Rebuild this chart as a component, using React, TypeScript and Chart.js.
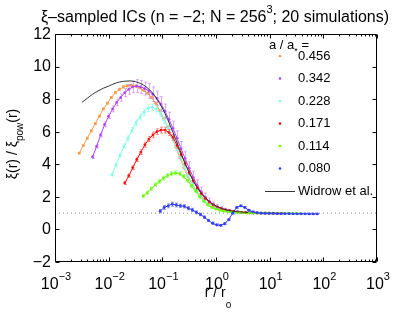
import React, { useEffect, useRef } from "react";
import { Chart, registerables } from "chart.js";

Chart.register(...registerables);

// ---------- data ----------
const X_MIN = 1e-3;
const X_MAX = 1e3;
const Y_MIN = -2;
const Y_MAX = 12;
const Y_TICKS = [-2, 0, 2, 4, 6, 8, 10, 12];
const X_DECADES = [-3, -2, -1, 0, 1, 2, 3];

const SERIES_LABELS = ["0.456", "0.342", "0.228", "0.171", "0.114", "0.080"];
const SERIES_COLORS = ["#FF9A4A", "#B23CFF", "#7FFFE6", "#FF0000", "#66FF00", "#2E3BFF"];
const BAR_COLORS = ["rgba(255,154,74,0.55)", "rgba(190,110,255,0.55)", "rgba(127,255,230,0.6)", "rgba(255,60,60,0.55)", "rgba(110,255,40,0.55)", "rgba(60,70,255,0.55)"];
const LOG_STEP = 0.075;
const SERIES_LOGR_START = [-2.55, -2.3, -1.94, -1.7, -1.355, -1.04];

const S0456 = [4.68, 5.15, 5.6, 6.05, 6.5, 6.95, 7.4, 7.75, 8.1, 8.4, 8.6, 8.75, 8.82, 8.85, 8.8, 8.7, 8.55, 8.35, 8.1, 7.75, 7.3, 6.8, 6.3, 5.7, 5.05, 4.4, 3.8, 3.25, 2.8, 2.4, 2.1, 1.83, 1.62, 1.47, 1.35, 1.26, 1.19, 1.14, 1.1, 1.07];
const S0342 = [4.45, 5.1, 5.8, 6.45, 6.95, 7.4, 7.8, 8.1, 8.4, 8.6, 8.75, 8.8, 8.75, 8.65, 8.5, 8.3, 8.05, 7.7, 7.25, 6.75, 6.2, 5.6, 4.95, 4.35, 3.75, 3.2, 2.7, 2.3, 1.98, 1.72, 1.52, 1.38, 1.27, 1.2, 1.14, 1.1, 1.07, 1.05, 1.04, 1.03];
const S0228 = [3.36, 3.95, 4.55, 5.1, 5.6, 6.1, 6.55, 6.9, 7.2, 7.45, 7.5, 7.4, 7.15, 6.7, 6.2, 5.65, 5.05, 4.45, 3.85, 3.3, 2.8, 2.4, 2.05, 1.8, 1.6, 1.45, 1.33, 1.25, 1.18, 1.13, 1.1, 1.07, 1.05, 1.04, 1.03, 1.02, 1.02, 1.01, 1.01, 1.0];
const S0171 = [2.85, 3.3, 3.8, 4.3, 4.75, 5.2, 5.55, 5.8, 6.0, 6.1, 6.1, 5.95, 5.65, 5.15, 4.6, 4.05, 3.5, 3.0, 2.55, 2.2, 1.9, 1.68, 1.5, 1.37, 1.27, 1.2, 1.15, 1.1, 1.07, 1.05, 1.03, 1.02, 1.01, 1.01, 1.0, 1.0, 1.0, 0.99, 0.99, 0.99];
const S0114 = [2.05, 2.25, 2.5, 2.75, 2.95, 3.15, 3.3, 3.42, 3.47, 3.42, 3.25, 3.0, 2.65, 2.35, 2.0, 1.72, 1.5, 1.35, 1.25, 1.17, 1.12, 1.08, 1.06, 1.04, 1.03, 1.02, 1.01, 1.01, 1.0, 1.0, 1.0, 1.0, 1.0, 0.99, 0.99, 0.99, 0.99, 0.99, 0.98, 0.98];
const S0080 = [1.12, 1.35, 1.45, 1.55, 1.5, 1.45, 1.42, 1.3, 1.2, 1.05, 0.92, 0.75, 0.55, 0.38, 0.28, 0.25, 0.35, 0.6, 1.0, 1.35, 1.45, 1.35, 1.18, 1.08, 1.03, 1.0, 0.99, 0.98, 0.98, 0.97, 0.97, 0.97, 0.97, 0.96, 0.96, 0.96, 0.96, 0.95, 0.95, 0.95];

const E0456 = [0.04, 0.04, 0.05, 0.05, 0.05, 0.05, 0.06, 0.06, 0.06, 0.07, 0.07, 0.08, 0.08, 0.08, 0.08, 0.08, 0.08, 0.08, 0.08, 0.08, 0.08, 0.08, 0.08, 0.08, 0.08, 0.07, 0.07, 0.06, 0.06, 0.05, 0.05, 0.04, 0.04, 0.03, 0.03, 0.03, 0.02, 0.02, 0.02, 0.02];
const E0342 = [0.1, 0.1, 0.12, 0.15, 0.15, 0.18, 0.2, 0.22, 0.25, 0.3, 0.35, 0.4, 0.4, 0.4, 0.45, 0.45, 0.45, 0.45, 0.45, 0.45, 0.45, 0.45, 0.45, 0.42, 0.4, 0.38, 0.35, 0.3, 0.25, 0.2, 0.17, 0.14, 0.12, 0.1, 0.08, 0.07, 0.06, 0.05, 0.05, 0.05];
const E0228 = [0.08, 0.1, 0.1, 0.12, 0.14, 0.15, 0.17, 0.18, 0.2, 0.2, 0.2, 0.2, 0.2, 0.2, 0.2, 0.2, 0.18, 0.17, 0.15, 0.13, 0.12, 0.1, 0.08, 0.07, 0.06, 0.05, 0.05, 0.04, 0.04, 0.03, 0.03, 0.03, 0.03, 0.02, 0.02, 0.02, 0.02, 0.02, 0.02, 0.02];
const E0171 = [0.1, 0.1, 0.12, 0.13, 0.15, 0.15, 0.16, 0.17, 0.18, 0.18, 0.18, 0.18, 0.17, 0.16, 0.15, 0.14, 0.12, 0.1, 0.09, 0.08, 0.07, 0.06, 0.05, 0.04, 0.04, 0.03, 0.03, 0.03, 0.03, 0.02, 0.02, 0.02, 0.02, 0.02, 0.02, 0.02, 0.02, 0.02, 0.02, 0.02];
const E0114 = [0.1, 0.1, 0.1, 0.11, 0.12, 0.12, 0.12, 0.12, 0.12, 0.12, 0.12, 0.11, 0.1, 0.09, 0.08, 0.07, 0.06, 0.05, 0.04, 0.04, 0.03, 0.03, 0.03, 0.02, 0.02, 0.02, 0.02, 0.02, 0.02, 0.02, 0.02, 0.02, 0.02, 0.02, 0.02, 0.02, 0.02, 0.02, 0.02, 0.02];
const E0080 = [0.1, 0.12, 0.12, 0.12, 0.12, 0.1, 0.1, 0.1, 0.1, 0.09, 0.08, 0.08, 0.07, 0.07, 0.06, 0.06, 0.06, 0.06, 0.06, 0.05, 0.05, 0.05, 0.04, 0.04, 0.03, 0.03, 0.03, 0.03, 0.02, 0.02, 0.02, 0.02, 0.02, 0.02, 0.02, 0.02, 0.02, 0.02, 0.02, 0.02];

const SERIES_VALUES = [S0456, S0342, S0228, S0171, S0114, S0080];
const SERIES_ERRORS = [E0456, E0342, E0228, E0171, E0114, E0080];

const WIDROW_LABEL = "Widrow et al.";
const WIDROW_LOGR_START = -2.5;
const WIDROW_LOG_STEP = 0.1;
const WIDROW = [7.8, 8.05, 8.3, 8.5, 8.67, 8.8, 8.95, 9.05, 9.1, 9.12, 9.07, 8.95, 8.75, 8.45, 8.0, 7.45, 6.75, 5.95, 5.1, 4.25, 3.5, 2.85, 2.35, 1.95, 1.65, 1.45, 1.3, 1.2, 1.13, 1.09, 1.06, 1.04];

const REF_LEVEL = 1;

const FONT = "'Liberation Sans', Arial, Helvetica, sans-serif";

function drawSupText(ctx: CanvasRenderingContext2D, parts: { t: string; kind: "n" | "sup" | "sub" }[], x: number, y: number, size: number, align: "left" | "center", subDrop = 0.35) {
  const subSize = Math.round(size * 0.7);
  let total = 0;
  const widths = parts.map((p) => {
    ctx.font = `${p.kind === "n" ? size : subSize}px ${FONT}`;
    const w = ctx.measureText(p.t).width;
    total += w;
    return w;
  });
  let cx = align === "center" ? x - total / 2 : x;
  ctx.textAlign = "left";
  ctx.textBaseline = "alphabetic";
  parts.forEach((p, i) => {
    ctx.font = `${p.kind === "n" ? size : subSize}px ${FONT}`;
    const dy = p.kind === "sup" ? -size * 0.55 : p.kind === "sub" ? size * subDrop : 0;
    ctx.fillText(p.t, cx, y + dy);
    cx += widths[i];
  });
}

const decorPlugin = {
  id: "decor",
  afterDatasetDraw(chart: any, args: any) {
    const ds = chart.data.datasets[args.index];
    if (!ds.errors) return;
    const { ctx, chartArea } = chart;
    const xs = chart.scales.x;
    const ys = chart.scales.y;
    ctx.save();
    ctx.beginPath();
    ctx.rect(chartArea.left, chartArea.top, chartArea.right - chartArea.left, chartArea.bottom - chartArea.top);
    ctx.clip();
    ctx.strokeStyle = ds.barColor;
    ctx.lineWidth = 1;
    ds.data.forEach((pt: any, i: number) => {
      const e = ds.errors[i];
      const px = Math.round(xs.getPixelForValue(pt.x)) + 0.5;
      const p1 = ys.getPixelForValue(pt.y - e);
      const p2 = ys.getPixelForValue(pt.y + e);
      ctx.beginPath();
      ctx.moveTo(px, p1);
      ctx.lineTo(px, p2);
      ctx.moveTo(px - 1.5, p1);
      ctx.lineTo(px + 1.5, p1);
      ctx.moveTo(px - 1.5, p2);
      ctx.lineTo(px + 1.5, p2);
      ctx.stroke();
    });
    ctx.restore();
  },
  afterDraw(chart: any) {
    const { ctx, chartArea } = chart;
    const { left, right, top, bottom } = chartArea;
    const xs = chart.scales.x;
    const ys = chart.scales.y;
    ctx.save();
    ctx.strokeStyle = "#000";
    ctx.fillStyle = "#000";
    ctx.lineWidth = 1;
    const L = Math.round(left) + 0.5;
    const R = Math.round(right) - 0.5;
    const T = Math.round(top) + 0.5;
    const B = Math.round(bottom) - 0.5;
    ctx.beginPath();
    ctx.moveTo(L, T);
    ctx.lineTo(R, T);
    ctx.lineTo(R, B);
    ctx.lineTo(L, B);
    ctx.closePath();
    ctx.stroke();

    // y ticks
    ctx.beginPath();
    Y_TICKS.forEach((v) => {
      const py = Math.round(ys.getPixelForValue(v)) + 0.5;
      ctx.moveTo(L, py);
      ctx.lineTo(L + 4, py);
      ctx.moveTo(R, py);
      ctx.lineTo(R - 4, py);
    });
    // x ticks
    X_DECADES.forEach((d) => {
      const px = Math.round(xs.getPixelForValue(Math.pow(10, d))) + 0.5;
      ctx.moveTo(px, B);
      ctx.lineTo(px, B - 4);
      ctx.moveTo(px, T);
      ctx.lineTo(px, T + 4);
      if (d < 3) {
        for (let k = 2; k <= 9; k++) {
          const mx = Math.round(xs.getPixelForValue(k * Math.pow(10, d))) + 0.5;
          ctx.moveTo(mx, B);
          ctx.lineTo(mx, B - 2);
          ctx.moveTo(mx, T);
          ctx.lineTo(mx, T + 2);
        }
      }
    });
    ctx.stroke();

    // y tick labels
    ctx.font = `16px ${FONT}`;
    ctx.textAlign = "right";
    ctx.textBaseline = "middle";
    Y_TICKS.forEach((v) => {
      const py = ys.getPixelForValue(v);
      ctx.fillText(v < 0 ? "\u2212" + Math.abs(v) : String(v), left - 4, py + 0.5);
    });

    // x tick labels
    X_DECADES.forEach((d) => {
      const px = xs.getPixelForValue(Math.pow(10, d));
      const exp = d < 0 ? "\u2212" + Math.abs(d) : String(d);
      drawSupText(ctx, [{ t: "10", kind: "n" }, { t: exp, kind: "sup" }], px + 1, bottom + 27, 16, "center");
    });

    // x title
    drawSupText(ctx, [{ t: "r / r", kind: "n" }, { t: "o", kind: "sub" }], (left + right) / 2 + 2, bottom + 35, 14, "center", 0.75);

    // y title
    ctx.save();
    ctx.translate(17, (top + bottom) / 2 - 4);
    ctx.rotate(-Math.PI / 2);
    drawSupText(ctx, [{ t: "\u03BE(r) / \u03BE", kind: "n" }, { t: "pow", kind: "sub" }, { t: "(r)", kind: "n" }], 0, 0, 14, "center", 0.45);
    ctx.restore();

    // title
    drawSupText(ctx, [{ t: "\u03BE\u2013sampled ICs (n = \u22122; N = 256", kind: "n" }, { t: "3", kind: "sup" }, { t: "; 20 simulations)", kind: "n" }], (left + right) / 2 - 1, 22, 16, "center");

    // legend
    drawSupText(ctx, [{ t: "a / a", kind: "n" }, { t: "*", kind: "sub" }, { t: " =", kind: "n" }], 269, 49, 13, "left");
    const rowY = [56, 78.5, 101, 123.5, 146, 168.5];
    SERIES_LABELS.forEach((lab, i) => {
      ctx.fillStyle = SERIES_COLORS[i];
      ctx.beginPath();
      ctx.arc(280, rowY[i], 1.3, 0, Math.PI * 2);
      ctx.fill();
      ctx.fillStyle = "#000";
      ctx.font = `13px ${FONT}`;
      ctx.textAlign = "left";
      ctx.textBaseline = "middle";
      ctx.fillText(lab, 298, rowY[i]);
    });
    ctx.strokeStyle = "#333";
    ctx.beginPath();
    ctx.moveTo(265, 191.5);
    ctx.lineTo(295, 191.5);
    ctx.stroke();
    ctx.fillStyle = "#000";
    ctx.font = `13px ${FONT}`;
    ctx.textAlign = "left";
    ctx.textBaseline = "middle";
    ctx.fillText(WIDROW_LABEL, 298, 191);
    ctx.restore();
  },
};

export default function App() {
  const ref = useRef<HTMLCanvasElement | null>(null);
  useEffect(() => {
    if (!ref.current) return;
    const datasets: any[] = SERIES_LABELS.map((lab, si) => ({
      type: "scatter",
      label: lab,
      data: SERIES_VALUES[si].map((v, i) => ({ x: Math.pow(10, SERIES_LOGR_START[si] + i * LOG_STEP), y: v })),
      errors: SERIES_ERRORS[si],
      barColor: BAR_COLORS[si],
      backgroundColor: SERIES_COLORS[si],
      borderColor: SERIES_COLORS[si],
      borderWidth: 1,
      pointRadius: 1.4,
      pointBorderWidth: 0,
      showLine: true,
      order: 6 - si,
    }));
    datasets.push({
      type: "line",
      label: WIDROW_LABEL,
      data: WIDROW.map((v, i) => ({ x: Math.pow(10, WIDROW_LOGR_START + i * WIDROW_LOG_STEP), y: v })),
      borderColor: "#333333",
      borderWidth: 1,
      pointRadius: 0,
      cubicInterpolationMode: "monotone",
      fill: false,
      order: 0,
    });
    datasets.push({
      type: "line",
      label: "ref",
      data: [{ x: X_MIN, y: REF_LEVEL }, { x: X_MAX, y: REF_LEVEL }],
      borderColor: "#888888",
      borderWidth: 1,
      borderDash: [1, 3],
      pointRadius: 0,
      fill: false,
      order: 7,
    });
    const chart = new Chart(ref.current, {
      type: "scatter",
      data: { datasets },
      options: {
        animation: false,
        responsive: false,
        maintainAspectRatio: false,
        layout: { padding: { left: 55, right: 38, top: 34, bottom: 51 } },
        plugins: { legend: { display: false }, tooltip: { enabled: false }, title: { display: false } },
        scales: {
          x: { type: "logarithmic", min: X_MIN, max: X_MAX, display: false },
          y: { type: "linear", min: Y_MIN, max: Y_MAX, display: false },
        },
      },
      plugins: [decorPlugin],
    } as any);
    return () => chart.destroy();
  }, []);
  return (
    <div style={{ position: "fixed", left: 0, top: 0, width: 415, height: 313, background: "#fff" }}>
      <canvas ref={ref} width={415} height={313} style={{ width: 415, height: 313, display: "block" }} />
    </div>
  );
}
